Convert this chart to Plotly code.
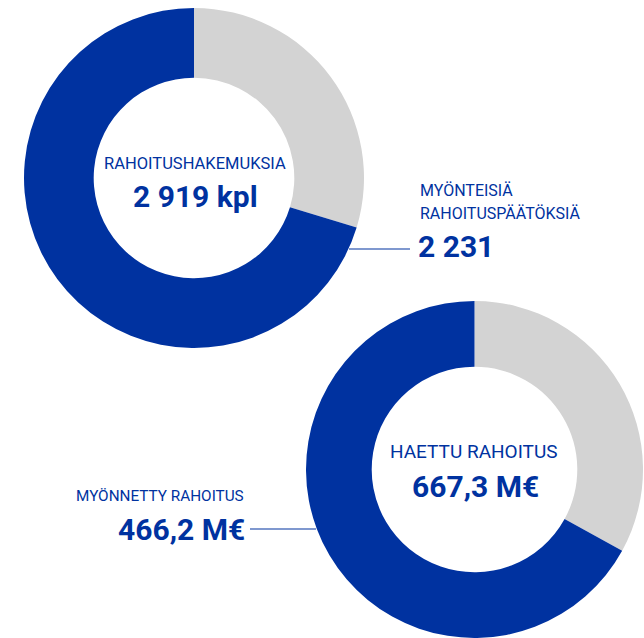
import plotly.graph_objects as go

W, H = 644, 638

# slice shares as drawn in the picture (grey = rest, blue = granted)
slice_names = ["Muut", "Myönteiset"]
top_shares = [29.7, 70.3]
bottom_shares = [33.0, 67.0]

top_title = "RAHOITUSHAKEMUKSIA"
top_total = "2 919 kpl"
top_side_title = ["MYÖNTEISIÄ", "RAHOITUSPÄÄTÖKSIÄ"]
top_side_value = "2 231"

bottom_title = "HAETTU RAHOITUS"
bottom_total = "667,3 M€"
bottom_side_title = "MYÖNNETTY RAHOITUS"
bottom_side_value = "466,2 M€"

BLUE = "#0032A0"
GREY = "#D3D3D3"
FONT = "Roboto"


def px(x):
    return x / W


def py(y):
    return 1 - y / H


fig = go.Figure()

fig.add_trace(go.Pie(
    labels=slice_names, values=top_shares, hole=0.59, sort=False,
    direction="clockwise", rotation=0,
    marker=dict(colors=[GREY, BLUE], line=dict(width=0)),
    textinfo="none", hoverinfo="skip",
    domain=dict(x=[px(24), px(364)], y=[py(348), py(8)]),
))

fig.add_trace(go.Pie(
    labels=slice_names, values=bottom_shares, hole=0.61, sort=False,
    direction="clockwise", rotation=0,
    marker=dict(colors=[GREY, BLUE], line=dict(width=0)),
    textinfo="none", hoverinfo="skip",
    domain=dict(x=[px(305), 1.0], y=[0.0, py(301)]),
))


def note(text, x, y, size, bold=False, xanchor="center"):
    fig.add_annotation(
        text=f"<b>{text}</b>" if bold else text,
        x=px(x), y=py(y), xref="paper", yref="paper",
        xanchor=xanchor, yanchor="middle", showarrow=False,
        font=dict(family=FONT, size=size, color=BLUE),
    )


# top donut texts
note(top_title, 195, 163, 16.5)
note(top_total, 195, 196, 30, bold=True)
note(top_side_title[0], 418, 190, 16, xanchor="left")
note(top_side_title[1], 418, 213, 16, xanchor="left")
note(top_side_value, 416, 246, 30, bold=True, xanchor="left")

# bottom donut texts
note(bottom_title, 474, 451, 19)
note(bottom_total, 475, 486, 30, bold=True)
note(bottom_side_title, 246, 496, 15.3, xanchor="right")
note(bottom_side_value, 247, 529, 30, bold=True, xanchor="right")

# connector lines
fig.add_shape(type="line", xref="paper", yref="paper",
              x0=px(349), x1=px(410), y0=py(249), y1=py(249),
              line=dict(color=BLUE, width=1.2))
fig.add_shape(type="line", xref="paper", yref="paper",
              x0=px(250), x1=px(316), y0=py(529), y1=py(529),
              line=dict(color=BLUE, width=1.2))

fig.update_layout(
    width=W, height=H,
    margin=dict(l=0, r=0, t=0, b=0),
    showlegend=False,
    paper_bgcolor="white",
    plot_bgcolor="white",
)

fig.write_html("out.html", config={"displayModeBar": False},
               post_script="document.body.style.margin = '0';")
